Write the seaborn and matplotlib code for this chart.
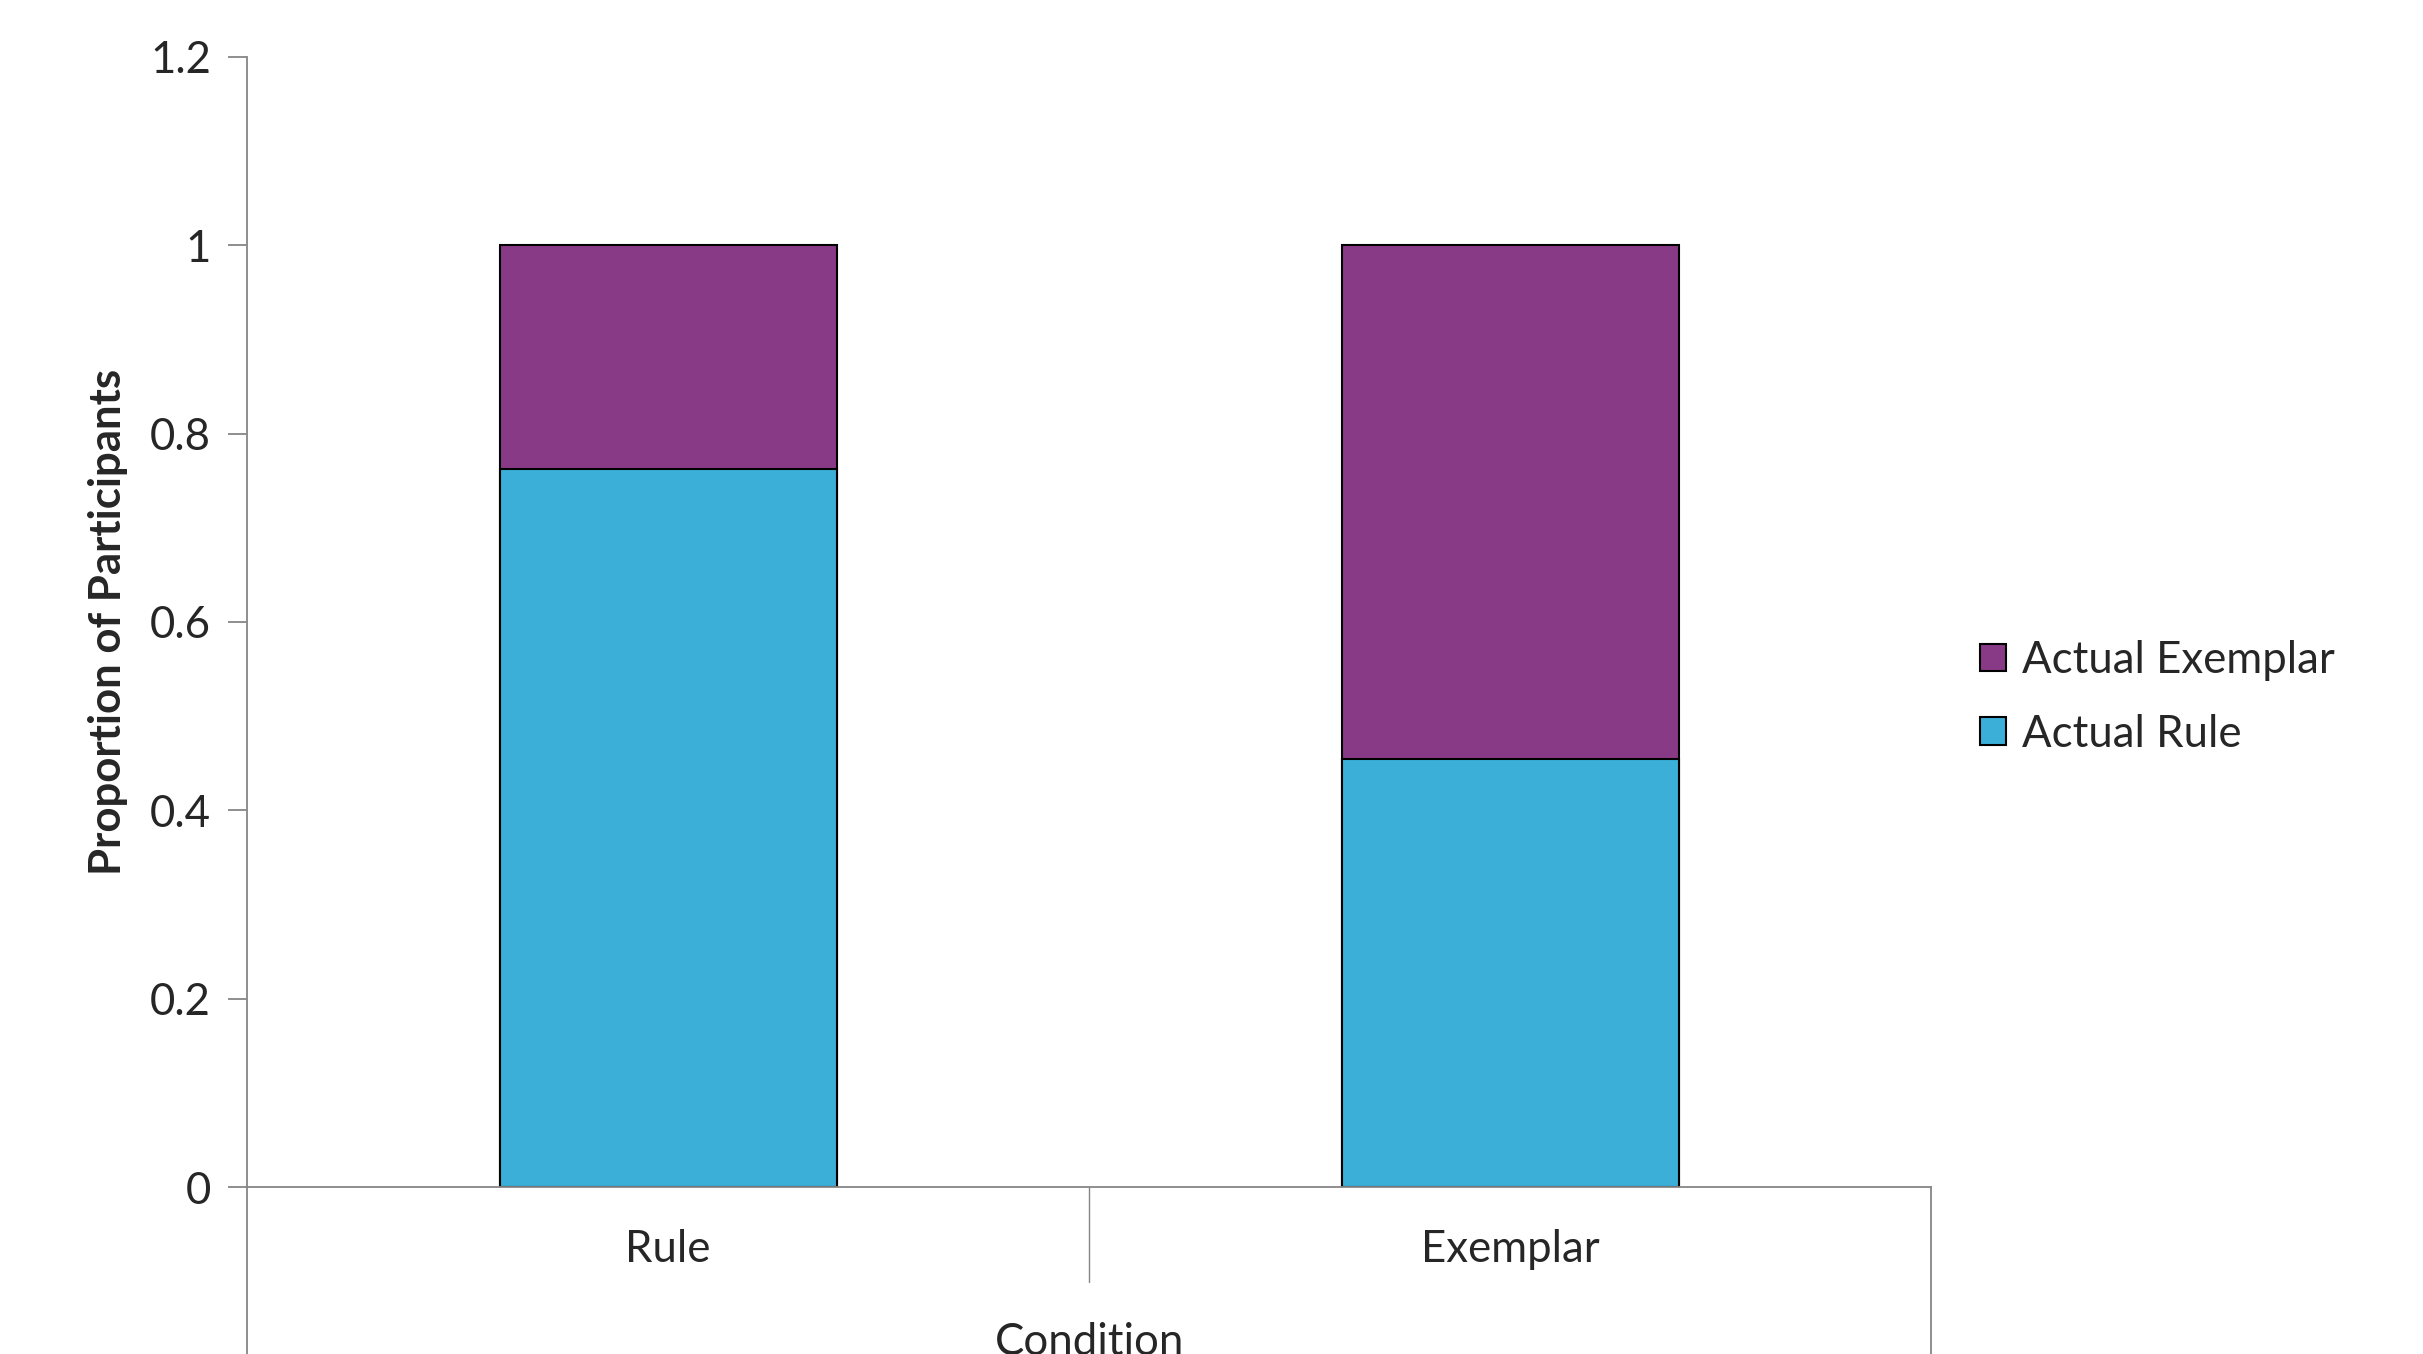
import pandas as pd
import seaborn as sns
import matplotlib.pyplot as plt
from matplotlib.patches import Patch

conditions = ["Rule", "Exemplar"]
actual_rule = [0.762, 0.455]
actual_exemplar = [0.238, 0.545]

df = pd.DataFrame({
    "Condition": conditions,
    "Actual Rule": actual_rule,
    "Actual Exemplar": actual_exemplar,
})
df["Total"] = df["Actual Rule"] + df["Actual Exemplar"]

blue = "#3BAFD7"
purple = "#893A86"
grey = "#868686"
fs = 31.5

sns.set_style("white")
plt.rcParams["font.family"] = ["Lato", "DejaVu Sans"]

fig = plt.figure(figsize=(24.23, 13.54), dpi=100)
ax = fig.add_axes([0.102, 0.1233, 0.695, 0.8347])

# stacked bars: total first, then the lower segment on top of it
sns.barplot(data=df, x="Condition", y="Total", color=purple, width=0.4,
            saturation=1, edgecolor="black", linewidth=1.5, ax=ax)
sns.barplot(data=df, x="Condition", y="Actual Rule", color=blue, width=0.4,
            saturation=1, edgecolor="black", linewidth=1.5, ax=ax)

ax.set_xlim(-0.5, 1.5)
ax.set_ylim(0, 1.2)
ax.set_yticks([0, 0.2, 0.4, 0.6, 0.8, 1.0, 1.2])
ax.set_yticklabels(["0", "0.2", "0.4", "0.6", "0.8", "1", "1.2"])

for s in ["top", "right"]:
    ax.spines[s].set_visible(False)
ax.spines["left"].set_color(grey)
ax.spines["bottom"].set_color(grey)
ax.spines["left"].set_linewidth(1.3)
ax.spines["bottom"].set_linewidth(1.3)

ax.tick_params(axis="y", direction="out", length=14, width=1.3, color=grey,
               left=True, labelsize=fs, pad=12)
ax.tick_params(axis="x", length=0, labelsize=fs, pad=30)

# category divider lines below the axis, Excel style
trans = ax.get_xaxis_transform()
ax.plot([-0.5, -0.5], [0, -0.2], transform=trans, color=grey, lw=1.3, clip_on=False)
ax.plot([1.5, 1.5], [0, -0.2], transform=trans, color=grey, lw=1.3, clip_on=False)
ax.plot([0.5, 0.5], [0, -0.084], transform=trans, color=grey, lw=1.0, clip_on=False)

ax.set_xlabel("Condition", fontsize=fs, labelpad=38)
ax.set_ylabel("Proportion of Participants", fontsize=fs, fontweight="bold", labelpad=16)

handles = [Patch(facecolor=purple, edgecolor="black", linewidth=1.5, label="Actual Exemplar"),
           Patch(facecolor=blue, edgecolor="black", linewidth=1.5, label="Actual Rule")]
fig.legend(handles=handles, loc="center left", bbox_to_anchor=(0.801, 0.485),
           frameon=False, fontsize=fs, handlelength=0.6, handleheight=0.6,
           handletextpad=0.35, labelspacing=0.75)

fig.savefig("out.png", dpi=100)
